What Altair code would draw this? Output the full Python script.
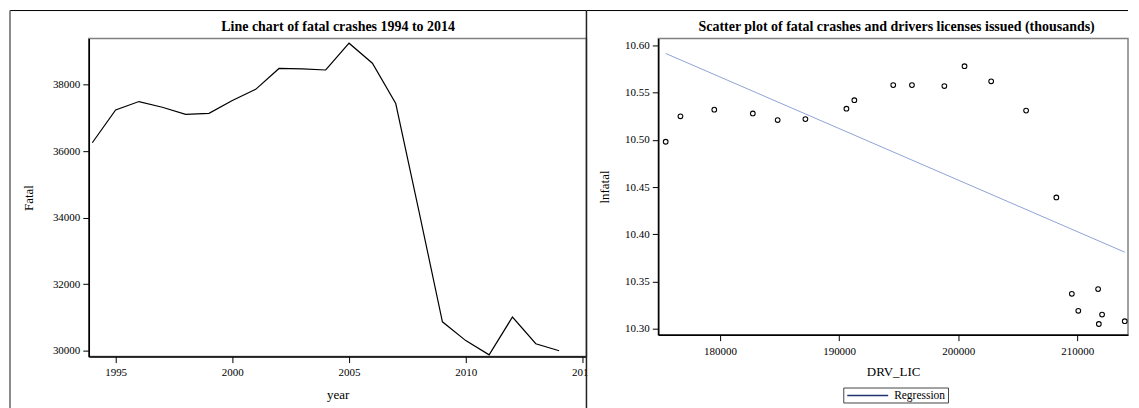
import altair as alt
import pandas as pd

FONT = "Liberation Serif"

# ---- data ----
years = list(range(1994, 2015))
fatal = [36254, 37241, 37494, 37324, 37107, 37140, 37526, 37862, 38491, 38477,
         38444, 39252, 38648, 37435, 34172, 30862, 30296, 29867, 31006, 30202, 29989]
drv_lic = [175434, 176674, 179516, 182752, 184838, 187167, 190614, 191279, 194545, 196117,
           198839, 200532, 202770, 205703, 208243, 209544, 210088, 211812, 211751, 212084, 213989]
lnfatal = [10.498, 10.525, 10.532, 10.528, 10.521, 10.522, 10.533, 10.542, 10.558, 10.558,
           10.557, 10.578, 10.562, 10.531, 10.439, 10.337, 10.319, 10.305, 10.342, 10.315, 10.308]
x_ticks_left = [1995, 2000, 2005, 2010, 2015]
y_ticks_left = [30000, 32000, 34000, 36000, 38000]
x_ticks_right = [180000, 190000, 200000, 210000]
y_ticks_right = [10.30, 10.35, 10.40, 10.45, 10.50, 10.55, 10.60]
legend_label = "Regression"
title_left = "Line chart of fatal crashes 1994 to 2014"
title_right = "Scatter plot of fatal crashes and drivers licenses issued (thousands)"

df_line = pd.DataFrame({"year": years, "Fatal": fatal})
df_sc = pd.DataFrame({"DRV_LIC": drv_lic, "lnfatal": lnfatal})
one = pd.DataFrame({"k": [0]})

LW, LH = 499, 319
RW, RH = 471, 297
SP = 72
TOP = -28

ax = dict(labelFont=FONT, labelFontSize=11, labelColor="black", titleFont=FONT,
          titleFontSize=13, titleFontWeight="normal", titleColor="black", tickSize=6,
          tickColor="black", tickWidth=1, domainColor="black", domainWidth=1.5,
          grid=False, labelFlush=False, labelOverlap=False)


def text_mark(text, x, y, size, weight="normal", align="center"):
    return alt.Chart(one).mark_text(text=text, font=FONT, fontSize=size, fontWeight=weight,
                                    color="black", align=align, baseline="alphabetic").encode(
        x=alt.value(x), y=alt.value(y))


# ---------------- left panel ----------------
line = alt.Chart(df_line).mark_line(color="black", strokeWidth=1.2, clip=True).encode(
    x=alt.X("year:Q", title="year",
            scale=alt.Scale(domain=[1993.85, 2015.17], nice=False, zero=False),
            axis=alt.Axis(values=x_ticks_left, format="d", labelPadding=4, titlePadding=11, **ax)),
    y=alt.Y("Fatal:Q", title="Fatal",
            scale=alt.Scale(domain=[29814, 39394], nice=False, zero=False),
            axis=alt.Axis(values=y_ticks_left, format="d", labelPadding=3, titlePadding=17, **ax)),
)
l_top = alt.Chart(one).mark_rule(color="black", strokeWidth=1).encode(
    x=alt.value(-79), x2=alt.value(LW), y=alt.value(TOP))
l_left = alt.Chart(one).mark_rule(color="#666666", strokeWidth=1.5).encode(
    x=alt.value(-79), y=alt.value(TOP), y2=alt.value(374))

left = alt.layer(line, l_top, l_left,
                 text_mark(title_left, 250, -7.5, 14, "bold")).properties(width=LW, height=LH)

# ---------------- right panel ----------------
xs = alt.X("DRV_LIC:Q", title="DRV_LIC",
           scale=alt.Scale(domain=[174811, 214262], nice=False, zero=False),
           axis=alt.Axis(values=x_ticks_right, format="d", labelPadding=5, titlePadding=9, **ax))
ys = alt.Y("lnfatal:Q", title="lnfatal",
           scale=alt.Scale(domain=[10.2937, 10.6074], nice=False, zero=False),
           axis=alt.Axis(values=y_ticks_right, format=".2f", labelPadding=3, titlePadding=13, **ax))

pts = alt.Chart(df_sc).mark_point(shape="circle", filled=False, color="black", size=22,
                                  strokeWidth=1.1, opacity=1).encode(x=xs, y=ys)
reg = alt.Chart(df_sc).transform_regression("DRV_LIC", "lnfatal").mark_line(
    color="#8fa3d6", strokeWidth=1, clip=True).encode(x="DRV_LIC:Q", y="lnfatal:Q")

# legend (box, line swatch, label)
leg_box = alt.Chart(one).mark_rect(fill="white", stroke="#444444", strokeWidth=1).encode(
    x=alt.value(186), x2=alt.value(291), y=alt.value(350.5), y2=alt.value(365.5))
leg_line = alt.Chart(one).mark_rule(color="#1f3470", strokeWidth=1.5).encode(
    x=alt.value(189.5), x2=alt.value(230.5), y=alt.value(358))
leg_text = text_mark(legend_label, 236.5, 362, 11.5, align="left")

cover = alt.Chart(one).mark_rect(color="white").encode(
    x=alt.value(-70.5), x2=alt.value(-62), y=alt.value(318), y2=alt.value(345))
r_top = alt.Chart(one).mark_rule(color="black", strokeWidth=1).encode(
    x=alt.value(-SP), x2=alt.value(RW), y=alt.value(TOP))
r_left = alt.Chart(one).mark_rule(color="#222222", strokeWidth=1.5).encode(
    x=alt.value(-SP), y=alt.value(TOP), y2=alt.value(374))

right = alt.layer(reg, pts, cover, r_top, r_left, leg_box, leg_line, leg_text,
                  text_mark(title_right, 239, -7.5, 14, "bold")).properties(width=RW, height=RH)

chart = alt.hconcat(left, right, spacing=SP, bounds="flush", padding=0).configure(
    font=FONT, background="white").configure_view(stroke="#808080", strokeWidth=1.5)

chart.save("out.html", embed_options={"renderer": "svg", "actions": False})
